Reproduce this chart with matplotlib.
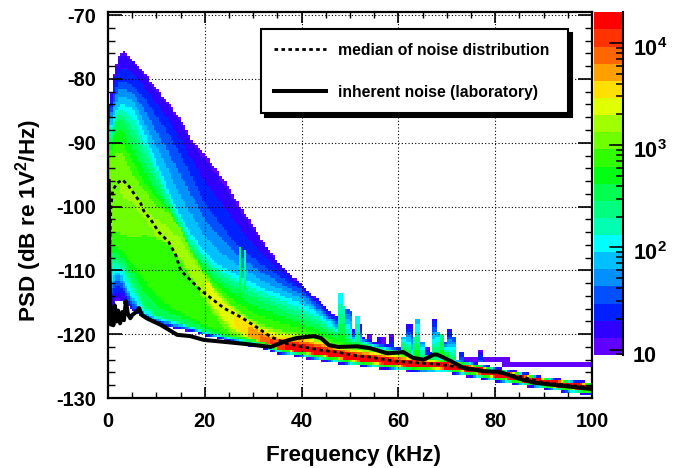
import numpy as np
import matplotlib
matplotlib.use("Agg")
import matplotlib.pyplot as plt
from matplotlib.colors import ListedColormap, BoundaryNorm
from matplotlib.ticker import MultipleLocator, FixedLocator, NullFormatter, LogLocator
from matplotlib.transforms import ScaledTranslation

plt.rcParams['font.family'] = ['Liberation Sans', 'DejaVu Sans']
plt.rcParams['font.weight'] = 'bold'
plt.rcParams['mathtext.fontset'] = 'custom'
plt.rcParams['mathtext.bf'] = 'Liberation Sans:bold'
plt.rcParams['mathtext.rm'] = 'Liberation Sans:bold'
plt.rcParams['axes.unicode_minus'] = False

# ---- values ------------------------------------------------------------
# Density table: at each frequency, the dB where the colour level is reached
# below (L*) and above (U*) the ridge R, whose level is Rlev and half width Rw.
# Histogram cells between these read columns are estimated from the table.
F = [0.5,1,2,3,5,7.5,10,12.5,15,17.5,20,22.5,25,27.5,30,32.5,35,37.5,40,42.5,45,47.5,50,55,60,65,70,75,80,85,90,95,100]
U0 = [-84,-80,-76.7,-75.6,-76.8,-79,-81.5,-83.7,-86.3,-89.8,-91.8,-94.3,-97,-100.2,-103,-106,-108.5,-110.5,-112.2,-114,-115.7,-117.5,-119.5,-121.2,-122,-122.6,-123.5,-124.3,-125.2,-125.9,-126.7,-127.1,-127.5]
U3 = [-86,-83,-80.5,-80.3,-80.8,-83,-85.8,-88.5,-92,-95.5,-99.5,-102,-104.5,-106.5,-108,-109.5,-110.7,-112,-113,-114.8,-116.6,-118.2,-120,-121.5,-122.3,-122.9,-123.7,-124.5,-125.4,-126.1,-126.8,-127.3,-127.7]
U6 = [-88,-86,-84.3,-84.1,-84.5,-88.5,-93,-97.5,-101.5,-104.7,-107,-109,-110,-111,-112,-113,-113.7,-114.5,-115.1,-116.3,-117.7,-119.2,-120.6,-121.8,-122.6,-123.2,-123.9,-124.6,-125.5,-126.15,-126.85,-127.35,-127.75]
U9 = [-90,-88,-86.2,-86.4,-89,-92.8,-96.5,-100,-103.5,-107,-109.2,-111,-112.2,-113.2,-114.2,-115,-115.8,-116.7,-117.5,-118.3,-119.2,-120.2,-121,-122.1,-122.9,-123.5,-124.1,-124.7,-125.55,-126.2,-126.9,-127.4,-127.8]
U12 = [-92,-92,-91.5,-91.8,-94.8,-97.5,-99.8,-101,-103.5,-107.5,-110.6,-113,-115,-116.5,-117.8,-118.6,-119.3,-119.6,-119.9,-120.6,-121,-121.8,-122,-122.6,-123.2,-123.9,-124.3,-124.9,-125.7,-126.3,-127,-127.5,-127.9]
R = [-100,-100,-97,-97,-98,-101,-103.5,-105,-107,-110,-112.5,-115,-117,-118.6,-119.9,-120.9,-121.8,-122.1,-122.3,-122.6,-122.9,-123.2,-123.6,-124,-124.5,-124.8,-125,-125.5,-126.2,-126.9,-127.5,-128,-128.4]
Rw = [0.4,0.4,0.4,0.4,0.4,0.4,0.8,0.8,1,1.2,1.2,1.2,1.2,1,0.8,0.4,0.4,0.4,0.4,0.4,0.4,0.4,0.4,0.4,0.4,0.4,0.4,0.4,0.4,0.4,0.4,0.4,0.4]
Rlev = [12,12.3,12.8,13.2,13.2,13.2,13.3,13.4,13.5,13.7,14,14.2,14.7,15.3,16.3,17.5,18.5,19.5,19.9,19.9,19.9,19.9,19.9,19.9,19.9,19.9,19.9,19.9,19.9,19.9,19.9,19.9,19.9]
L12 = [-104,-104,-104.1,-104.3,-105,-104.5,-105,-106,-108.5,-111.5,-114.9,-117.6,-119.8,-120.4,-120.9,-121.4,-122.3,-122.6,-122.9,-123.2,-123.5,-123.8,-124.2,-124.65,-125.05,-125.35,-125.5,-126.05,-126.75,-127.35,-128,-128.55,-129]
L11 = [-106,-106,-106.5,-107,-109,-111.5,-114,-115.5,-116.5,-117.5,-118.5,-119.3,-120.2,-120.6,-121.05,-121.55,-122.4,-122.7,-123,-123.35,-123.65,-123.95,-124.3,-124.8,-125.2,-125.5,-125.6,-126.2,-126.9,-127.5,-128.1,-128.7,-129.1]
L9 = [-108,-108,-108.4,-109,-111.5,-115.3,-117,-117.6,-118.2,-118.8,-119.5,-120,-120.4,-120.8,-121.2,-121.7,-122.5,-122.8,-123.1,-123.5,-123.8,-124.1,-124.45,-124.9,-125.3,-125.6,-125.7,-126.3,-127,-127.6,-128.2,-128.8,-129.2]
L6 = [-112,-111,-110,-111,-114.2,-116.6,-117.6,-118.1,-118.5,-119.1,-119.8,-120.2,-120.7,-121.1,-121.5,-122,-122.7,-123,-123.3,-123.7,-124,-124.3,-124.6,-125.05,-125.45,-125.75,-125.85,-126.45,-127.15,-127.75,-128.35,-128.95,-129.35]
L3 = [-114,-113,-112.2,-113,-115.7,-117.1,-118,-118.5,-119,-119.4,-120,-120.4,-120.9,-121.3,-121.7,-122.1,-122.85,-123.15,-123.45,-123.85,-124.15,-124.45,-124.7,-125.15,-125.55,-125.85,-125.95,-126.55,-127.25,-127.85,-128.45,-129.05,-129.45]
L0 = [-116,-115.5,-114.5,-115,-116.2,-117.5,-118.3,-118.9,-119.2,-119.6,-120.2,-120.6,-121.2,-121.6,-121.9,-122.3,-123,-123.3,-123.6,-124,-124.3,-124.6,-124.8,-125.3,-125.7,-126,-126.1,-126.7,-127.4,-128,-128.6,-129.2,-129.6]

# Isolated columns above the cloud: frequency, top dB, bottom dB, level at top, level at bottom
spike_f = [27.2,28.1,47.7,48.2,49.0,49.6,50.6,51.4,51.9,53.8,55.5,56.5,58.0,60.5,61.5,62.2,63.0,63.9,64.8,65.5,67.0,67.7,68.7,69.5,70.4,71.2,72.8,76.8]
spike_top = [-106.3,-106.8,-113.5,-115.5,-116,-116.3,-119,-117,-118.5,-120,-120.5,-120.5,-120,-120.5,-118.5,-118.5,-120.5,-117.5,-121,-122,-117.5,-119.5,-120,-121,-119,-120.5,-122.7,-122.5]
spike_bot = [-117,-113,-121.5,-121.5,-121.8,-121.8,-122.2,-122.5,-122.5,-122,-122.5,-122.5,-123,-123,-123,-123,-123.2,-123.5,-123.5,-124,-123.5,-123.5,-123.5,-123.5,-124,-124,-125,-124.5]
spike_ltop = [9,7,6,7,3,3,1,6,1,0.5,1,0.5,0.5,5,1,1,8,5,4,0.5,1,5,8,2,1,3,2,0.5]
spike_lbot = [10.5,9.5,11,11,10,9,8,10,9,1,2,1.5,4,11,10,7,11,11,9,3,10,10,11,11,9,10,5,4]

# Faint purple rows at high frequency: start kHz, end kHz, dB
row_start = [73.5,81.5]
row_end = [83,100]
row_db = [-124.3,-124.9]

# Palette, bottom to top
level_colors = ['#6000ff','#3000ff','#0020ff','#0050ff','#0090ff','#00c0ff','#00ffff','#00ffb0','#00ff80','#00ff50',
                '#00ff10','#30ff00','#70ff00','#a0ff00','#e0ff00','#ffe000','#ffa000','#ff6600','#ff3300','#ff0000']
log_count_min = 0.948
log_count_max = 4.3

med_f = [0.3,0.6,1,1.9,3,4.3,5.3,6.7,7.4,8.8,10.5,12.5,14,15,17,19,21.2,23.9,27.4,30.9,33.6,37,40.4,43.9,47.4,50.7,54.2,59,64,68,75,80,85,90,95,100]
med_db = [-108,-100,-97.4,-96.3,-95.8,-96.8,-97.9,-99.4,-100.7,-102,-104,-105.5,-107.6,-110,-111.5,-113,-114.3,-115.9,-117.3,-119,-120.4,-121.5,-122,-122.5,-122.8,-123.3,-123.6,-124.2,-124.5,-124.7,-125.4,-126,-126.6,-127.6,-128,-128.4]

inh_f = [0.15,0.25,0.4,0.6,0.9,1.1,1.4,1.8,2.1,2.5,3,3.3,3.7,4.1,4.6,5,5.5,6,6.4,7,8,8.8,10.8,14.3,17,19.8,24,28,33.6,37,39,42.5,44,45.6,47.6,51.5,54.2,57.7,61,63,65.2,67.3,68,70.8,73.5,77.6,81,84.6,88,94,100]
inh_db = [-96,-108,-113,-118.5,-116,-118.6,-115.5,-118,-116.3,-118.3,-116.5,-117.8,-114.8,-116.8,-117.5,-117,-116.7,-116.4,-115.9,-117,-117.5,-117.8,-118.5,-120.1,-120.3,-120.9,-121.2,-121.5,-122,-121,-120.6,-120.3,-120.6,-121.7,-122,-121.9,-122.2,-123,-122.8,-123.7,-124,-123.2,-123.2,-124.2,-125.3,-125.8,-125.9,-126.9,-127.6,-128.1,-128.6]

x_ticks = [0,20,40,60,80,100]
y_ticks = [-130,-120,-110,-100,-90,-80,-70]
cbar_ticks = [10,100,1000,10000]
cbar_labels = ['10', r'$\mathbf{10^{2}}$', r'$\mathbf{10^{3}}$', r'$\mathbf{10^{4}}$']
# ------------------------------------------------------------------------

W, H = 677, 468
fig = plt.figure(figsize=(W/100, H/100), dpi=100)
ax = fig.add_axes([108/W, (H-398)/H, 484/W, 385.7/H])

n_levels = len(level_colors)
edges = np.logspace(log_count_min, log_count_max, n_levels+1)
cmap = ListedColormap(level_colors)
cmap.set_bad((1,1,1,0))
norm = BoundaryNorm(edges, n_levels)

def to_count(level):
    return 10**(log_count_min + np.asarray(level, dtype=float)*(log_count_max-log_count_min)/n_levels)

x_edges = np.arange(0, 100.01, 0.5)
y_edges = np.arange(-130, -69.99, 0.4)
xc = 0.5*(x_edges[:-1]+x_edges[1:])
yc = 0.5*(y_edges[:-1]+y_edges[1:])
level = np.full((len(yc), len(xc)), np.nan)
for j, f in enumerate(xc):
    g = lambda a: np.interp(f, F, a)
    r = g(R); rl = g(Rlev); w = g(Rw)
    ys = [g(L0),g(L3),g(L6),g(L9),g(L11),g(L12),r-w,r+w,g(U12),g(U9),g(U6),g(U3),g(U0)]
    ls = [0.8,3,6,9,11,12,rl,rl,12,9,6,3,0.8]
    level[:, j] = np.interp(yc, ys, ls, left=np.nan, right=np.nan)
for f, t, b, lt, lb in zip(spike_f, spike_top, spike_bot, spike_ltop, spike_lbot):
    mask = (yc >= b) & (yc <= t)
    ramp = np.interp(yc[mask], [b, t], [lb, lt])
    cols = (int(f/0.5),) if f < 40 else (int(f/0.5), int(f/0.5)+1)
    for j in cols:
        col = level[mask, j]
        level[mask, j] = np.where(np.isnan(col), ramp, np.maximum(col, ramp))
for a, b, d in zip(row_start, row_end, row_db):
    i = int((d+130)/0.4)
    jj = (xc >= a) & (xc <= b)
    for ii in (i, i+1):
        level[ii, jj] = np.where(np.isnan(level[ii, jj]), 0.5, level[ii, jj])

mesh = ax.pcolormesh(x_edges, y_edges, np.ma.masked_invalid(to_count(level)), cmap=cmap, norm=norm, zorder=1)

ax.set_xlim(0, 100)
ax.set_ylim(-130, -69.55)
ax.set_axisbelow(False)
ax.grid(True, which='major', color='black', linestyle=(0,(1,2)), linewidth=0.8, zorder=2)
ax.plot(med_f, med_db, color='black', lw=2.0, linestyle=(0,(1.3,1.2)), zorder=4, label='median of noise distribution')
ax.plot(inh_f, inh_db, color='black', lw=2.9, zorder=5, label='inherent noise (laboratory)')

ax.set_xticks(x_ticks)
ax.set_yticks(y_ticks)
ax.xaxis.set_minor_locator(MultipleLocator(5))
ax.yaxis.set_minor_locator(MultipleLocator(2))
ax.tick_params(axis='x', which='major', direction='in', length=8, width=1.2, labelsize=14.4, pad=10, top=True)
ax.tick_params(axis='x', which='minor', direction='in', length=4, width=1, top=True)
ax.tick_params(axis='y', which='major', direction='in', length=10, width=1.2, labelsize=14.4, pad=8.5, right=True)
ax.tick_params(axis='y', which='minor', direction='in', length=5, width=1, right=True)
for s in ax.spines.values():
    s.set_linewidth(1.6)
ax.set_xlabel('Frequency (kHz)', fontsize=16.2, fontweight='bold', labelpad=10, x=0.507)
ax.set_ylabel(r'PSD (dB re 1V$\mathbf{^{2}}$/Hz)', fontsize=16.2, fontweight='bold')
ax.yaxis.set_label_coords((44-108)/484, 0.459)

x0 = (260.7-108)/484; x1 = (568-108)/484
y1 = (398-29.3)/385.7; y0 = (398-113.3)/385.7
leg = ax.legend(loc='upper left', bbox_to_anchor=(x0, y0, x1-x0, y1-y0), mode='expand', borderaxespad=0,
                fontsize=11.3, frameon=True, fancybox=False, framealpha=1, edgecolor='black',
                borderpad=0.85, labelspacing=1.73, handlelength=3.3, handletextpad=0.76,
                shadow={'color':'black','alpha':1,'ox':3,'oy':-3})
leg.get_frame().set_linewidth(1.5)
leg.set_zorder(10)

cax = fig.add_axes([594/W, (H-355)/H, 29.3/W, 342.7/H])
cax.pcolormesh([0, 1], edges, np.arange(n_levels).reshape(-1, 1), cmap=cmap, vmin=-0.5, vmax=n_levels-0.5)
cax.set_yscale('log')
cax.set_ylim(edges[0], edges[-1])
cax.set_xlim(0, 1)
cax.set_xticks([])
cax.yaxis.tick_right()
cax.yaxis.set_major_locator(FixedLocator(cbar_ticks))
cax.set_yticklabels(cbar_labels)
cax.tick_params(axis='y', which='major', direction='in', length=10, width=1.2, labelsize=15.5, pad=7)
cax.yaxis.set_minor_locator(LogLocator(base=10, subs=range(2, 10), numticks=12))
cax.yaxis.set_minor_formatter(NullFormatter())
cax.tick_params(axis='y', which='minor', direction='in', length=5, width=1.1)
for k in ['left', 'top', 'bottom']:
    cax.spines[k].set_visible(False)
cax.spines['right'].set_linewidth(1.5)
shift = ScaledTranslation(0, -4/100, fig.dpi_scale_trans)
for lbl in cax.get_yticklabels():
    lbl.set_transform(lbl.get_transform() + shift)

fig.savefig('out.png', dpi=100)
